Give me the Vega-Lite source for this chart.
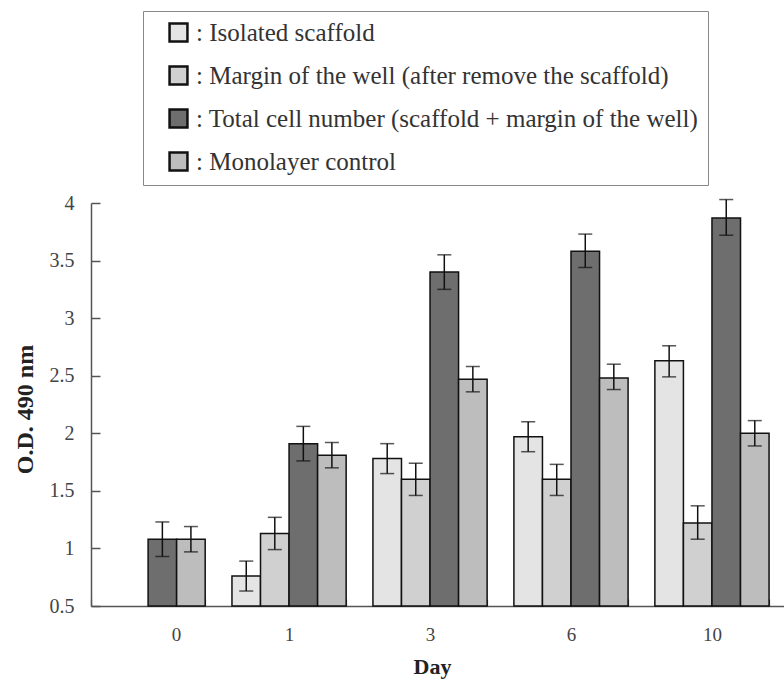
{
  "$schema": "https://vega.github.io/schema/vega-lite/v6.json",
  "autosize": "none",
  "width": 693,
  "height": 403,
  "padding": {"left": 91, "top": 203, "right": 0, "bottom": 83},
  "background": "white",
  "config": {
    "view": {"stroke": null},
    "font": "Liberation Serif",
    "legend": {"labelFont": "Liberation Serif"},
    "axis": {"labelFont": "Liberation Serif", "titleFont": "Liberation Serif"}
  },
  "data": {
    "values": [
      {"day": "0", "series": "Total cell number (scaffold + margin of the well)", "value": 1.08, "lo": 0.93, "hi": 1.23},
      {"day": "0", "series": "Monolayer control", "value": 1.08, "lo": 0.97, "hi": 1.19},
      {"day": "1", "series": "Isolated scaffold", "value": 0.76, "lo": 0.63, "hi": 0.89},
      {"day": "1", "series": "Margin of the well (after remove the scaffold)", "value": 1.13, "lo": 0.99, "hi": 1.27},
      {"day": "1", "series": "Total cell number (scaffold + margin of the well)", "value": 1.91, "lo": 1.76, "hi": 2.06},
      {"day": "1", "series": "Monolayer control", "value": 1.81, "lo": 1.7, "hi": 1.92},
      {"day": "3", "series": "Isolated scaffold", "value": 1.78, "lo": 1.65, "hi": 1.91},
      {"day": "3", "series": "Margin of the well (after remove the scaffold)", "value": 1.6, "lo": 1.46, "hi": 1.74},
      {"day": "3", "series": "Total cell number (scaffold + margin of the well)", "value": 3.4, "lo": 3.25, "hi": 3.55},
      {"day": "3", "series": "Monolayer control", "value": 2.47, "lo": 2.36, "hi": 2.58},
      {"day": "6", "series": "Isolated scaffold", "value": 1.97, "lo": 1.84, "hi": 2.1},
      {"day": "6", "series": "Margin of the well (after remove the scaffold)", "value": 1.6, "lo": 1.46, "hi": 1.73},
      {"day": "6", "series": "Total cell number (scaffold + margin of the well)", "value": 3.58, "lo": 3.44, "hi": 3.73},
      {"day": "6", "series": "Monolayer control", "value": 2.48, "lo": 2.38, "hi": 2.6},
      {"day": "10", "series": "Isolated scaffold", "value": 2.63, "lo": 2.49, "hi": 2.76},
      {"day": "10", "series": "Margin of the well (after remove the scaffold)", "value": 1.22, "lo": 1.08, "hi": 1.37},
      {"day": "10", "series": "Total cell number (scaffold + margin of the well)", "value": 3.87, "lo": 3.72, "hi": 4.03},
      {"day": "10", "series": "Monolayer control", "value": 2.0, "lo": 1.89, "hi": 2.11}
    ]
  },
  "encoding": {
    "x": {
      "field": "day",
      "type": "ordinal",
      "sort": ["0", "1", "3", "6", "10"],
      "scale": {"paddingInner": 0.19, "paddingOuter": 0.053, "align": 0},
      "axis": {
        "title": "Day",
        "titleFontSize": 22,
        "titleFontWeight": "bold",
        "titleColor": "#222",
        "titleX": 341,
        "titleY": 67,
        "titleAlign": "center",
        "titleBaseline": "alphabetic",
        "labelFontSize": 19,
        "labelColor": "#444",
        "labelAngle": 0,
        "labelPadding": 26,
        "labelOffset": {"condition": {"test": "datum.value == '0'", "value": 28}, "value": 0},
        "ticks": true,
        "tickBand": "extent",
        "tickOffset": 9,
        "tickSize": -7,
        "tickColor": "#555",
        "tickWidth": 1.2,
        "domainColor": "#555",
        "domainWidth": 1.5,
        "grid": false
      }
    },
    "xOffset": {
      "field": "series",
      "type": "nominal",
      "scale": {
        "domain": ["Isolated scaffold", "Margin of the well (after remove the scaffold)", "Total cell number (scaffold + margin of the well)", "Monolayer control"],
        "paddingInner": 0,
        "paddingOuter": 0
      }
    }
  },
  "layer": [
    {
      "mark": {"type": "bar", "stroke": "#111", "strokeWidth": 1.5},
      "encoding": {
        "y": {
          "field": "value",
          "type": "quantitative",
          "scale": {"domain": [0.5, 4], "nice": false, "zero": false},
          "axis": {
            "title": "O.D. 490 nm",
            "titleFontSize": 24,
            "titleFontWeight": "bold",
            "titleColor": "#222",
            "titleAngle": -90,
            "titleX": -66,
            "titleY": 206,
            "titleAlign": "center",
            "titleBaseline": "middle",
            "values": [0.5, 1, 1.5, 2, 2.5, 3, 3.5, 4],
            "labelExpr": "'' + datum.value",
            "labelFontSize": 20,
            "labelColor": "#444",
            "labelPadding": 26,
            "tickSize": -9,
            "tickColor": "#555",
            "tickWidth": 1.5,
            "domainColor": "#555",
            "domainWidth": 1.5,
            "grid": false
          }
        },
        "y2": {"datum": 0.5},
        "fill": {
          "field": "series",
          "type": "nominal",
          "scale": {
            "domain": ["Isolated scaffold", "Margin of the well (after remove the scaffold)", "Total cell number (scaffold + margin of the well)", "Monolayer control"],
            "range": ["#e4e4e4", "#d0d0d0", "#6e6e6e", "#bdbdbd"]
          },
          "legend": {
            "title": null,
            "orient": "none",
            "direction": "vertical",
            "legendX": 52,
            "legendY": -192,
            "padding": 9,
            "strokeColor": "#888",
            "fillColor": "white",
            "symbolType": "square",
            "symbolSize": 320,
            "symbolStrokeColor": "#111",
            "symbolStrokeWidth": 2.5,
            "symbolOffset": 14,
            "labelFontSize": 25,
            "labelColor": "#333",
            "labelLimit": 700,
            "labelOffset": 5,
            "rowPadding": 14,
            "labelExpr": "': ' + datum.label"
          }
        }
      }
    },
    {
      "mark": {"type": "rule", "color": "#111", "strokeWidth": 1.5},
      "encoding": {
        "y": {"field": "lo", "type": "quantitative"},
        "y2": {"field": "hi"}
      }
    },
    {
      "mark": {"type": "tick", "color": "#111", "size": 14, "thickness": 1.5},
      "encoding": {
        "y": {"field": "lo", "type": "quantitative"}
      }
    },
    {
      "mark": {"type": "tick", "color": "#111", "size": 14, "thickness": 1.5},
      "encoding": {
        "y": {"field": "hi", "type": "quantitative"}
      }
    }
  ]
}
